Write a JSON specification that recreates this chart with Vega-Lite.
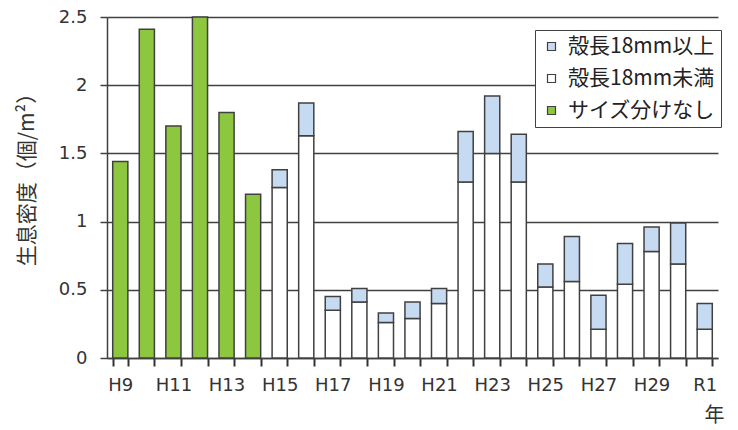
{
  "$schema": "https://vega.github.io/schema/vega-lite/v6.json",
  "width": 611,
  "height": 341,
  "autosize": "none",
  "padding": {"left": 107, "top": 17, "right": 20, "bottom": 72},
  "background": "white",
  "config": {"view": {"stroke": null}},
  "data": {
    "values": [
      {"year": "H9", "size": "サイズ分けなし", "value": 1.44},
      {"year": "H10", "size": "サイズ分けなし", "value": 2.41},
      {"year": "H11", "size": "サイズ分けなし", "value": 1.70},
      {"year": "H12", "size": "サイズ分けなし", "value": 2.50},
      {"year": "H13", "size": "サイズ分けなし", "value": 1.80},
      {"year": "H14", "size": "サイズ分けなし", "value": 1.20},
      {"year": "H15", "size": "殻長18mm未満", "value": 1.25},
      {"year": "H15", "size": "殻長18mm以上", "value": 0.13},
      {"year": "H16", "size": "殻長18mm未満", "value": 1.63},
      {"year": "H16", "size": "殻長18mm以上", "value": 0.24},
      {"year": "H17", "size": "殻長18mm未満", "value": 0.35},
      {"year": "H17", "size": "殻長18mm以上", "value": 0.10},
      {"year": "H18", "size": "殻長18mm未満", "value": 0.41},
      {"year": "H18", "size": "殻長18mm以上", "value": 0.10},
      {"year": "H19", "size": "殻長18mm未満", "value": 0.26},
      {"year": "H19", "size": "殻長18mm以上", "value": 0.07},
      {"year": "H20", "size": "殻長18mm未満", "value": 0.29},
      {"year": "H20", "size": "殻長18mm以上", "value": 0.12},
      {"year": "H21", "size": "殻長18mm未満", "value": 0.40},
      {"year": "H21", "size": "殻長18mm以上", "value": 0.11},
      {"year": "H22", "size": "殻長18mm未満", "value": 1.29},
      {"year": "H22", "size": "殻長18mm以上", "value": 0.37},
      {"year": "H23", "size": "殻長18mm未満", "value": 1.50},
      {"year": "H23", "size": "殻長18mm以上", "value": 0.42},
      {"year": "H24", "size": "殻長18mm未満", "value": 1.29},
      {"year": "H24", "size": "殻長18mm以上", "value": 0.35},
      {"year": "H25", "size": "殻長18mm未満", "value": 0.52},
      {"year": "H25", "size": "殻長18mm以上", "value": 0.17},
      {"year": "H26", "size": "殻長18mm未満", "value": 0.56},
      {"year": "H26", "size": "殻長18mm以上", "value": 0.33},
      {"year": "H27", "size": "殻長18mm未満", "value": 0.21},
      {"year": "H27", "size": "殻長18mm以上", "value": 0.25},
      {"year": "H28", "size": "殻長18mm未満", "value": 0.54},
      {"year": "H28", "size": "殻長18mm以上", "value": 0.30},
      {"year": "H29", "size": "殻長18mm未満", "value": 0.78},
      {"year": "H29", "size": "殻長18mm以上", "value": 0.18},
      {"year": "H30", "size": "殻長18mm未満", "value": 0.69},
      {"year": "H30", "size": "殻長18mm以上", "value": 0.30},
      {"year": "R1", "size": "殻長18mm未満", "value": 0.21},
      {"year": "R1", "size": "殻長18mm以上", "value": 0.19}
    ]
  },
  "mark": {"type": "bar", "stroke": "#404040", "strokeWidth": 1.5},
  "encoding": {
    "x": {
      "field": "year",
      "type": "nominal",
      "sort": ["H9","H10","H11","H12","H13","H14","H15","H16","H17","H18","H19","H20","H21","H22","H23","H24","H25","H26","H27","H28","H29","H30","R1"],
      "scale": {"paddingInner": 0.43, "paddingOuter": 0.215},
      "axis": {
        "title": "年",
        "titleFont": "Noto Sans CJK JP",
        "titleFontSize": 20,
        "titleFontWeight": "normal",
        "titleColor": "#333",
        "titleX": 607,
        "titleY": 57,
        "titleAlign": "center",
        "titleBaseline": "middle",
        "labelAngle": 0,
        "labelFont": "DejaVu Sans",
        "labelFontSize": 18,
        "labelColor": "#333",
        "labelPadding": 10,
        "labelExpr": "indexof(['H9','H11','H13','H15','H17','H19','H21','H23','H25','H27','H29','R1'], datum.value) >= 0 ? datum.label : ''",
        "tickBand": "extent",
        "ticks": true,
        "tickSize": 8,
        "tickColor": "#333333",
        "tickWidth": 2,
        "domainColor": "#404040",
        "domainWidth": 1.5,
        "grid": false
      }
    },
    "y": {
      "field": "value",
      "type": "quantitative",
      "aggregate": "sum",
      "stack": "zero",
      "scale": {"domain": [0, 2.5], "nice": false},
      "axis": {
        "title": "生息密度（個/m²）",
        "titleFont": "Noto Sans CJK JP",
        "titleFontSize": 21,
        "titleFontWeight": "normal",
        "titleColor": "#333",
        "titleAngle": -90,
        "titleX": -80,
        "titleY": 157,
        "titleAlign": "center",
        "titleBaseline": "middle",
        "values": [0, 0.5, 1, 1.5, 2, 2.5],
        "labelExpr": "datum.value",
        "labelFont": "DejaVu Sans",
        "labelFontSize": 18,
        "labelColor": "#333",
        "labelPadding": 13,
        "tickSize": 7,
        "tickColor": "#404040",
        "tickWidth": 1.5,
        "domainColor": "#404040",
        "domainWidth": 1.5,
        "grid": true,
        "gridColor": "#404040",
        "gridWidth": 1.5
      }
    },
    "color": {
      "field": "size",
      "type": "nominal",
      "scale": {
        "domain": ["殻長18mm以上", "殻長18mm未満", "サイズ分けなし"],
        "range": ["#C6DBF1", "#FFFFFF", "#8DC63F"]
      },
      "legend": {
        "title": null,
        "orient": "none",
        "legendX": 428,
        "legendY": 13,
        "fillColor": "white",
        "strokeColor": "#404040",
        "padding": 6,
        "symbolType": "square",
        "symbolSize": 64,
        "symbolStrokeColor": "#404040",
        "symbolStrokeWidth": 1.2,
        "labelFont": "Noto Sans CJK JP",
        "labelFontSize": 21,
        "labelColor": "#222",
        "labelLimit": 300,
        "labelExpr": "datum.label + '  '",
        "rowPadding": 10,
        "labelOffset": 6
      }
    },
    "order": {"field": "size", "sort": "descending"}
  }
}
